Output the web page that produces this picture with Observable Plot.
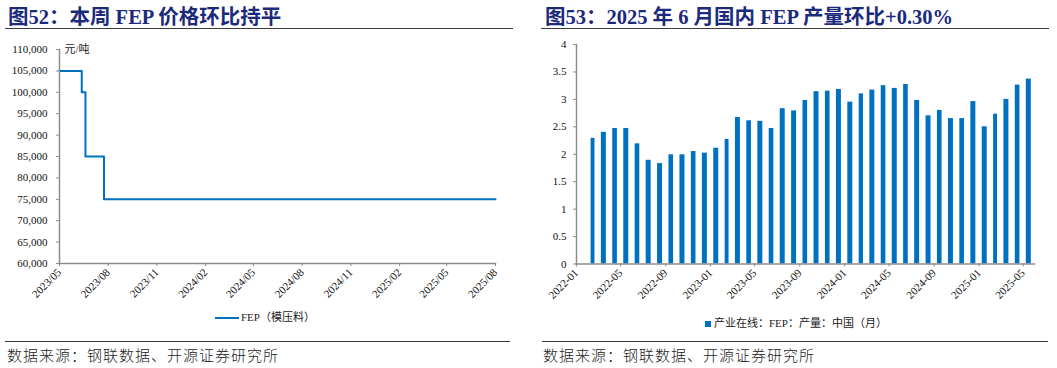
<!DOCTYPE html>
<html>
<head>
<meta charset="utf-8">
<script src="https://cdn.jsdelivr.net/npm/d3@7"></script>
<script src="https://cdn.jsdelivr.net/npm/@observablehq/plot@0.6"></script>
<style>
  html, body { margin: 0; padding: 0; background: #fff; }
  #root { position: relative; width: 1057px; height: 368px; overflow: hidden; background: #fff; }
  .abs { position: absolute; }
  .title { font-family: "Liberation Serif", "Noto Sans CJK SC", serif; font-weight: bold; font-size: 20.5px; color: #1c2a7c; white-space: nowrap; line-height: 1; }
  .rule { height: 0; border-top: 1.6px solid #3a3a3a; }
  .src { font-family: "Noto Sans CJK SC", serif; font-size: 15px; color: #222; white-space: nowrap; line-height: 1; letter-spacing: 1px; font-weight: 300; }
  .legend { font-family: "Liberation Serif", "Noto Sans CJK SC", serif; font-size: 11px; color: #222; white-space: nowrap; line-height: 1; display: flex; align-items: center; }
</style>
</head>
<body>
<div id="root">
  <div class="abs title" style="left:8px; top:7px;">图52：本周 FEP 价格环比持平</div>
  <div class="abs rule" style="left:5px; top:28px; width:508px;"></div>
  <div class="abs title" style="left:545px; top:7px;">图53：2025 年 6 月国内 FEP 产量环比+0.30%</div>
  <div class="abs rule" style="left:541px; top:28px; width:508px;"></div>

  <div id="left" class="abs" style="left:0px; top:0px;"></div>
  <div id="right" class="abs" style="left:530px; top:0px;"></div>

  <div class="abs legend" style="left:215px; top:312px;"><span style="display:inline-block;width:24px;height:0;border-top:2px solid #0070C0;margin-right:2px;"></span>FEP（模压料）</div>
  <div class="abs legend" style="left:705px; top:318px;"><span style="display:inline-block;width:6px;height:6px;background:#0070C0;margin-right:3px;"></span>产业在线：FEP：产量：中国（月）</div>

  <div class="abs rule" style="left:5px; top:341px; width:505px; border-top-width:1.2px;"></div>
  <div class="abs rule" style="left:542px; top:341px; width:506px; border-top-width:1.2px;"></div>
  <div class="abs src" style="left:7px; top:347px;">数据来源：钢联数据、开源证券研究所</div>
  <div class="abs src" style="left:543px; top:347px;">数据来源：钢联数据、开源证券研究所</div>
</div>
<script>
// ---- Left chart data: FEP (moulding grade) price, yuan/ton (change points, weekly series) ----
const priceDates = ["2023-05-01", "2023-06-12", "2023-06-19", "2023-07-24", "2025-08-01"];
const priceValues = [105000, 100000, 85000, 75000, 75000];
const priceTickLabels = ["2023/05", "2023/08", "2023/11", "2024/02", "2024/05", "2024/08", "2024/11", "2025/02", "2025/05", "2025/08"];
const priceYTicks = [60000, 65000, 70000, 75000, 80000, 85000, 90000, 95000, 100000, 105000, 110000];

// ---- Right chart data: FEP monthly output (China) ----
const prodMonths = ["2022-02","2022-03","2022-04","2022-05","2022-06","2022-07","2022-08","2022-09","2022-10","2022-11","2022-12",
  "2023-01","2023-02","2023-03","2023-04","2023-05","2023-06","2023-07","2023-08","2023-09","2023-10","2023-11","2023-12",
  "2024-01","2024-02","2024-03","2024-04","2024-05","2024-06","2024-07","2024-08","2024-09","2024-10","2024-11","2024-12",
  "2025-01","2025-02","2025-03","2025-04","2025-05"];
const prodValues = [2.29,2.40,2.47,2.47,2.19,1.89,1.83,1.99,1.99,2.05,2.02,
  2.11,2.27,2.67,2.61,2.60,2.47,2.83,2.79,2.98,3.14,3.15,3.18,
  2.95,3.10,3.17,3.25,3.20,3.27,2.98,2.70,2.80,2.65,2.65,2.96,
  2.50,2.73,3.00,3.26,3.37];
const prodTickLabels = ["2022-01","2022-05","2022-09","2023-01","2023-05","2023-09","2024-01","2024-05","2024-09","2025-01","2025-05"];
const prodYTicks = [0, 0.5, 1, 1.5, 2, 2.5, 3, 3.5, 4];

const BLUE = "#0070C0";
const AXIS = "#8c8c8c";
const FONT = "'Liberation Serif', 'Noto Sans CJK SC', serif";

const parseMonth = s => new Date(s.replace("/", "-") + "-01T00:00:00Z");
const priceData = priceDates.map((d, i) => ({date: new Date(d + "T00:00:00Z"), price: priceValues[i]}));
const prodData = prodMonths.map((m, i) => ({date: parseMonth(m), value: prodValues[i]}));

const leftPlot = Plot.plot({
  width: 516, height: 340,
  marginLeft: 59, marginRight: 21, marginTop: 49, marginBottom: 77,
  style: {fontFamily: FONT, fontSize: "11px", color: "#111", background: "transparent"},
  x: {type: "utc", domain: [parseMonth("2023-05"), parseMonth("2025-08")]},
  y: {domain: [60000, 110000]},
  marks: [
    Plot.axisY({ticks: priceYTicks, tickFormat: d3.format(","), tickSize: 3, tickPadding: 9, stroke: AXIS, label: null}),
    Plot.axisX({ticks: priceTickLabels.map(parseMonth), tickFormat: d3.utcFormat("%Y/%m"), tickSize: 3, tickPadding: 4, tickRotate: -45, stroke: AXIS, label: null}),
    Plot.line(priceData, {x: "date", y: "price", curve: "step-after", stroke: BLUE, strokeWidth: 2}),
    Plot.frame({anchor: "left", stroke: AXIS, strokeWidth: 1.5}),
    Plot.frame({anchor: "bottom", stroke: AXIS, strokeWidth: 1.5}),
    Plot.text(["元/吨"], {frameAnchor: "top-left", dx: 5, dy: 0, lineAnchor: "middle", textAnchor: "start", fontSize: 11, fill: "#222"})
  ]
});
document.getElementById("left").appendChild(leftPlot);

const rightPlot = Plot.plot({
  width: 527, height: 340,
  marginLeft: 46, marginRight: 23, marginTop: 44, marginBottom: 76.5,
  style: {fontFamily: FONT, fontSize: "11px", color: "#111", background: "transparent"},
  x: {type: "utc", domain: [parseMonth("2022-01"), parseMonth("2025-06")]},
  y: {domain: [0, 4]},
  marks: [
    Plot.axisY({ticks: prodYTicks, tickFormat: d3.format("~g"), tickSize: 3, tickPadding: 7, stroke: AXIS, label: null}),
    Plot.axisX({ticks: prodTickLabels.map(parseMonth), tickFormat: d3.utcFormat("%Y-%m"), tickSize: 3, tickPadding: 4, tickRotate: -45, stroke: AXIS, label: null}),
    Plot.rectY(prodData, {x: "date", y: "value", interval: "month", insetLeft: 3.2, insetRight: 3.2, fill: BLUE}),
    Plot.frame({anchor: "left", stroke: AXIS, strokeWidth: 1.5}),
    Plot.frame({anchor: "bottom", stroke: AXIS, strokeWidth: 1.5})
  ]
});
document.getElementById("right").appendChild(rightPlot);
</script>
</body>
</html>
